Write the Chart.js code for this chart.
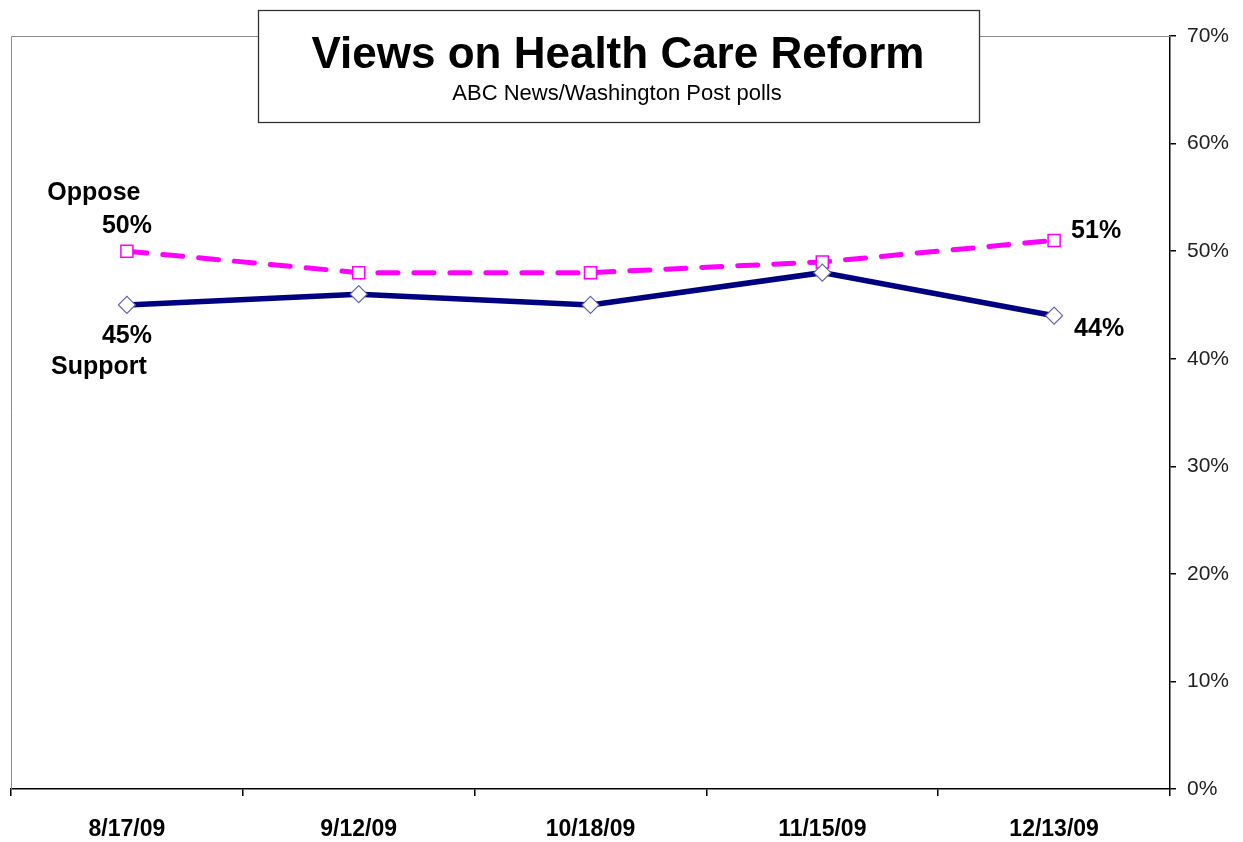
<!DOCTYPE html>
<html lang="en">
<head>
	<meta charset="UTF-8">
	<title>Views on Health Care Reform</title>
	<script src="https://cdn.jsdelivr.net/npm/chart.js"></script>
	<style>
		html, body { margin: 0; padding: 0; background: #fff; }
		#wrap { width: 1243px; height: 842px; }
	</style>
</head>
<body>
	<div id="wrap"><canvas id="lineChart"></canvas></div>
	<script>
		// poll dates and results (percent)
		const pollDates = ["8/17/09", "9/12/09", "10/18/09", "11/15/09", "12/13/09"];
		const opposeValues = [50, 48, 48, 49, 51];
		const supportValues = [45, 46, 45, 48, 44];
		const yTicks = [0, 10, 20, 30, 40, 50, 60, 70];

		const titleText = "Views on Health Care Reform";
		const subtitleText = "ABC News/Washington Post polls";
		const FONT = "'Liberation Sans', Arial, sans-serif";

		// gray frame on left/top, title box, and end labels
		const decorations = {
			id: "decorations",
			beforeDatasetsDraw(chart) {
				const ctx = chart.ctx, a = chart.chartArea;
				ctx.save();
				ctx.strokeStyle = "#8c8c8c";
				ctx.lineWidth = 1;
				ctx.beginPath();
				ctx.moveTo(a.left + 0.5, a.bottom);
				ctx.lineTo(a.left + 0.5, a.top + 0.5);
				ctx.lineTo(a.right, a.top + 0.5);
				ctx.stroke();
				ctx.restore();
			},
			afterDraw(chart) {
				const ctx = chart.ctx;
				const x = chart.scales.x, y = chart.scales.y;
				ctx.save();
				// title box
				ctx.fillStyle = "#fff";
				ctx.fillRect(258, 10, 722, 113);
				ctx.strokeStyle = "#333";
				ctx.lineWidth = 1.3;
				ctx.strokeRect(258.5, 10.5, 721, 112);
				ctx.fillStyle = "#000";
				ctx.textAlign = "center";
				ctx.textBaseline = "middle";
				ctx.font = "bold 44px " + FONT;
				ctx.fillText(titleText, 618, 56);
				ctx.font = "22px " + FONT;
				ctx.fillText(subtitleText, 617, 94);

				// series labels
				ctx.font = "bold 25px " + FONT;
				const last = pollDates.length - 1;
				const x0 = x.getPixelForValue(0), xl = x.getPixelForValue(last);
				ctx.fillText("Oppose", x0 - 33, y.getPixelForValue(opposeValues[0]) - 58);
				ctx.fillText(opposeValues[0] + "%", x0, y.getPixelForValue(opposeValues[0]) - 25);
				ctx.fillText(supportValues[0] + "%", x0, y.getPixelForValue(supportValues[0]) + 31);
				ctx.fillText("Support", x0 - 28, y.getPixelForValue(supportValues[0]) + 62);
				ctx.textAlign = "left";
				ctx.fillText(opposeValues[last] + "%", xl + 17, y.getPixelForValue(opposeValues[last]) - 9);
				ctx.fillText(supportValues[last] + "%", xl + 20, y.getPixelForValue(supportValues[last]) + 13);
				ctx.restore();
			}
		};

		new Chart(document.getElementById("lineChart"), {
			type: "line",
			data: {
				labels: pollDates,
				datasets: [
					{
						label: "Support",
						data: supportValues,
						borderColor: "#000080",
						borderWidth: 5.5,
						pointStyle: "rectRot",
						pointRadius: 8.5,
						pointBackgroundColor: "#fff",
						pointBorderColor: "#6464b0",
						pointBorderWidth: 1.2,
						tension: 0
					},
					{
						label: "Oppose",
						data: opposeValues,
						borderColor: "#ff00ff",
						borderWidth: 5,
						borderDash: [20, 16],
						borderCapStyle: "round",
						pointStyle: "rect",
						pointRadius: 8.5,
						pointBackgroundColor: "#fff",
						pointBorderColor: "#ff00ff",
						pointBorderWidth: 1.5,
						tension: 0
					}
				]
			},
			options: {
				responsive: true,
				maintainAspectRatio: false,
				animation: false,
				layout: { padding: { left: 11, top: 36, right: 0, bottom: 0 } },
				plugins: {
					legend: { display: false },
					tooltip: { enabled: false }
				},
				scales: {
					x: {
						offset: true,
						afterFit(scale) { scale.height = 53; },
						grid: {
							display: true,
							offset: true,
							drawOnChartArea: false,
							drawTicks: true,
							tickLength: 7,
							lineWidth: 1.5,
							color: "#000"
						},
						border: { display: true, color: "#000", width: 1.5 },
						ticks: {
							color: "#000",
							padding: 20,
							font: { family: FONT, size: 23, weight: "bold" }
						}
					},
					y: {
						position: "right",
						min: 0,
						max: 70,
						afterFit(scale) { scale.width = 73; },
						afterBuildTicks(scale) { scale.ticks = yTicks.map(v => ({ value: v })); },
						grid: {
							display: true,
							drawOnChartArea: false,
							drawTicks: true,
							tickLength: 6,
							lineWidth: 1.5,
							color: "#000"
						},
						border: { display: true, color: "#000", width: 1.5 },
						ticks: {
							color: "#222",
							padding: 11,
							font: { family: FONT, size: 21 },
							callback: v => v + "%"
						}
					}
				}
			},
			plugins: [decorations]
		});
	</script>
</body>
</html>
